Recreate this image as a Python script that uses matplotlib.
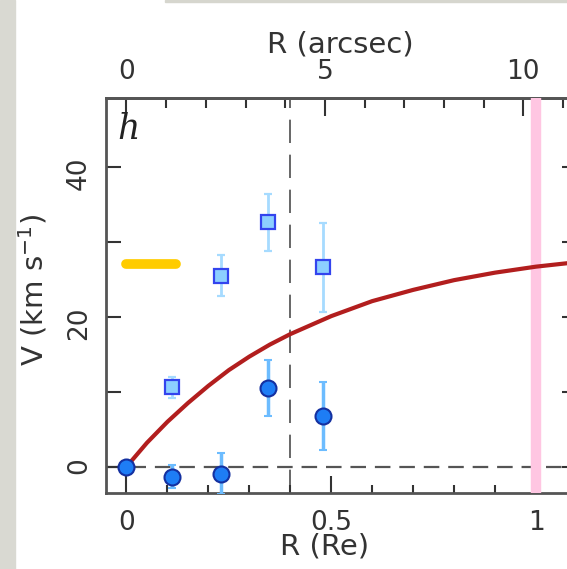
import numpy as np
import matplotlib.pyplot as plt
import matplotlib.patches as mpatches

# filled circles: R (Re), V (km/s), error
circ_r = [0.0, 0.11, 0.23, 0.345, 0.48]
circ_v = [0.0, -1.3, -0.9, 10.5, 6.8]
circ_err = [0.0, 1.5, 2.8, 3.7, 4.5]

# open squares
sq_r = [0.11, 0.23, 0.345, 0.48]
sq_v = [10.6, 25.5, 32.6, 26.6]
sq_err = [1.4, 2.7, 3.8, 5.9]

# model curve
model_r = [0.0, 0.025, 0.05, 0.075, 0.1, 0.15, 0.2, 0.25, 0.3, 0.35, 0.4, 0.5, 0.6,
           0.7, 0.8, 0.9, 1.0, 1.1]
model_v = [0.0, 1.6, 3.2, 4.6, 6.0, 8.5, 10.8, 12.9, 14.7, 16.3, 17.7, 20.1, 22.1,
           23.6, 24.9, 25.9, 26.7, 27.3]

yellow_r = [0.0, 0.12]
yellow_v = [27.1, 27.1]

r_dash = 0.4
r_pink = 1.0
re_arcsec = 10.32

plt.rcParams['font.family'] = ['DejaVu Sans']
fs = 19
lfs = 21
txt_col = '#333333'
spine_col = '#555555'

fig = plt.figure(figsize=(5.67, 5.69), dpi=100)
fig.patches.append(mpatches.Rectangle((0, 0), 15 / 567, 1, transform=fig.transFigure,
                                      color='#d9d9d2', zorder=0))
fig.patches.append(mpatches.Rectangle((165 / 567, 1 - 2 / 569), 1, 2 / 569,
                                      transform=fig.transFigure, color='#d6d6ce', zorder=0))

ax = fig.add_axes([106 / 567, 76 / 569, 471 / 567, 395 / 569])
ax.set_xlim(-0.05, 1.1)
ax.set_ylim(-3.5, 49.2)

ax.axhline(0, color='#555555', lw=1.6, dashes=(7, 4), zorder=1)
ax.axvline(r_dash, color='#666666', lw=1.4, dashes=(12, 6), zorder=1)
ax.axvline(r_pink, color='#ffc6e2', lw=7.5, zorder=3)

ax.plot(yellow_r, yellow_v, color='#ffcc00', lw=7, solid_capstyle='round', zorder=4)
ax.plot(model_r, model_v, color='#b21e1e', lw=3, zorder=4)

ax.errorbar(sq_r, sq_v, yerr=sq_err, fmt='s', ms=10, mfc='#8ccfff', mec='#3344ee',
            mew=1.6, ecolor='#a6dbff', elinewidth=2, capsize=3, capthick=1.5, zorder=5)
ax.errorbar(circ_r, circ_v, yerr=circ_err, fmt='o', ms=11.5, mfc='#1e7df5', mec='#1430a0',
            mew=1.5, ecolor='#6cbcff', elinewidth=2.5, capsize=3, capthick=1.5, zorder=6)

for s in ax.spines.values():
    s.set_color(spine_col)
    s.set_linewidth(2)

ax.set_xticks([0, 0.5, 1])
ax.set_xticklabels(['0', '0.5', '1'])
ax.set_xticks(np.arange(0, 1.11, 0.1), minor=True)
ax.set_yticks([0, 20, 40])
ax.set_yticks([10, 30], minor=True)
ax.tick_params(axis='x', which='both', direction='in', top=False, bottom=True,
               color=txt_col, width=1.5, labelsize=fs, pad=12, labelcolor=txt_col)
ax.tick_params(axis='x', which='major', length=12)
ax.tick_params(axis='x', which='minor', length=6)
ax.tick_params(axis='y', which='both', direction='in', left=True, right=True, length=11,
               color=txt_col, width=1.5, labelsize=fs, pad=10, labelrotation=90,
               labelcolor=txt_col)

ax.set_xlabel('R (Re)', fontsize=lfs, color=txt_col)
ax.xaxis.set_label_coords(0.465, -0.1)
ax.set_ylabel('V (km s$^{-1}$)', fontsize=lfs, color=txt_col)
ax.yaxis.set_label_coords(-0.119, 0.514)

sec = ax.secondary_xaxis('top', functions=(lambda r: r * re_arcsec, lambda a: a / re_arcsec))
sec.set_xticks([0, 5, 10])
sec.set_xticks(np.arange(0, 12, 1), minor=True)
sec.tick_params(which='both', direction='in', color=txt_col, width=1.5,
                labelsize=fs, pad=9, labelcolor=txt_col)
sec.tick_params(which='major', length=13)
sec.tick_params(which='minor', length=7)
sec.spines['top'].set_color(spine_col)
sec.spines['top'].set_linewidth(2)
fig.text(340 / 567, 1 - 45 / 569, 'R (arcsec)', fontsize=lfs, color=txt_col,
         ha='center', va='center')

ax.text(0.024, 0.965, 'h', transform=ax.transAxes, fontsize=25, family='DejaVu Serif',
        style='italic', va='top', ha='left', color='#222222')

fig.savefig('out.png', dpi=100)
